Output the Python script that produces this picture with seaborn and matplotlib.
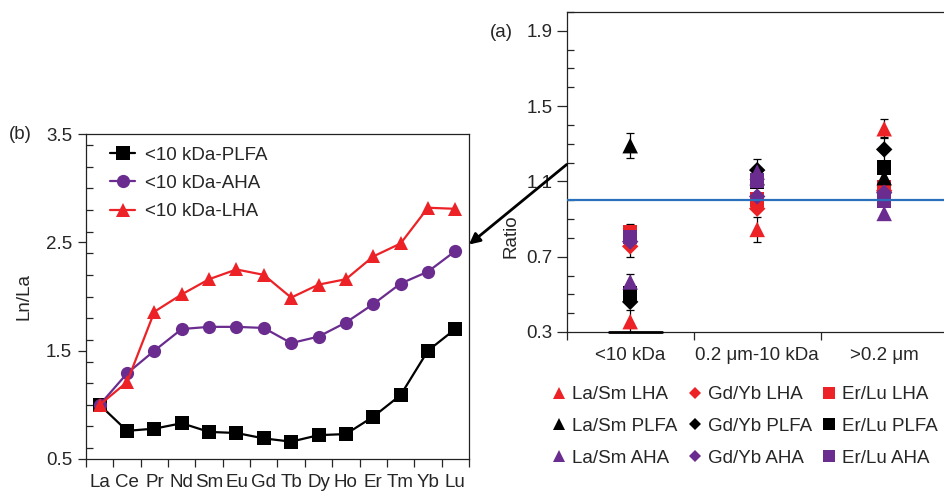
import matplotlib
matplotlib.use("Agg")
import matplotlib.pyplot as plt
import numpy as np
import pandas as pd
import seaborn as sns
from matplotlib.lines import Line2D
from matplotlib.patches import ConnectionPatch
from matplotlib.ticker import MultipleLocator, FixedLocator

# ---- panel (b): Ln/La patterns
elements = ['La', 'Ce', 'Pr', 'Nd', 'Sm', 'Eu', 'Gd', 'Tb', 'Dy', 'Ho', 'Er', 'Tm', 'Yb', 'Lu']
plfa = [1.00, 0.76, 0.78, 0.83, 0.75, 0.74, 0.69, 0.66, 0.72, 0.73, 0.89, 1.09, 1.50, 1.70]
aha = [1.00, 1.29, 1.50, 1.70, 1.72, 1.72, 1.71, 1.57, 1.63, 1.76, 1.93, 2.12, 2.23, 2.42]
lha = [1.00, 1.21, 1.86, 2.02, 2.16, 2.25, 2.20, 1.99, 2.11, 2.16, 2.37, 2.49, 2.82, 2.81]
series_b = ['<10 kDa-PLFA', '<10 kDa-AHA', '<10 kDa-LHA']

# ---- panel (a): ratios per size fraction
sizes = ['<10 kDa', '0.2 \u03bcm-10 kDa', '>0.2 \u03bcm']
lasm_lha = [0.355, 0.845, 1.38]
lasm_plfa = [1.29, 1.12, 1.12]
lasm_aha = [0.566, 1.15, 0.93]
gdyb_lha = [0.755, 0.955, 1.05]
gdyb_plfa = [0.46, 1.16, 1.27]
gdyb_aha = [0.78, 1.02, 1.04]
erlu_lha = [0.83, 1.005, 1.07]
erlu_plfa = [0.505, 1.10, 1.175]
erlu_aha = [0.805, 1.105, 1.00]
# error bars (0 = none visible)
lasm_lha_err = [0.06, 0.065, 0.05]
lasm_plfa_err = [0.065, 0, 0]
lasm_aha_err = [0.04, 0, 0]
gdyb_lha_err = [0.055, 0, 0]
gdyb_plfa_err = [0, 0.06, 0.065]
erlu_lha_err = [0.045, 0, 0]

RED = '#EC2227'
PURPLE = '#6A2C8F'
BLACK = '#000000'
BLUE = '#2B70BD'
FS = 13.5

sns.set_style("ticks")
plt.rcParams['font.family'] = ['Liberation Sans', 'DejaVu Sans']
plt.rcParams['font.size'] = FS
plt.rcParams['axes.edgecolor'] = '#222222'
plt.rcParams['axes.linewidth'] = 0.9

fig = plt.figure(figsize=(9.44, 4.93), dpi=100)

# ================= panel (b)
axb = fig.add_axes([0.0911, 0.069, 0.4057, 0.659])
dfb = pd.DataFrame({
    'element': elements * 3,
    'value': plfa + aha + lha,
    'series': [series_b[0]] * 14 + [series_b[1]] * 14 + [series_b[2]] * 14,
})
pal_b = {series_b[0]: BLACK, series_b[1]: PURPLE, series_b[2]: RED}
mk_b = {series_b[0]: 's', series_b[1]: 'o', series_b[2]: '^'}
sns.lineplot(data=dfb, x='element', y='value', hue='series', style='series',
             hue_order=series_b, style_order=series_b, palette=pal_b,
             markers=mk_b, dashes=False, markersize=9.5, markeredgewidth=0,
             linewidth=1.6, legend=False, ax=axb)
axb.set_xlim(-0.5, 13.5)
axb.set_ylim(0.5, 3.5)
axb.set_xlabel('')
axb.set_ylabel('Ln/La', fontsize=FS)
axb.yaxis.set_label_coords(-0.14, 0.5)
axb.yaxis.set_major_locator(FixedLocator([0.5, 1.5, 2.5, 3.5]))
axb.yaxis.set_minor_locator(MultipleLocator(0.2))
axb.xaxis.set_minor_locator(FixedLocator(np.arange(-0.5, 14, 1.0)))
axb.tick_params(axis='y', which='major', direction='out', length=6, width=0.9, pad=4, labelsize=FS)
axb.tick_params(axis='y', which='minor', direction='in', length=5, width=0.9)
axb.tick_params(axis='x', which='major', length=0, pad=11, labelsize=FS)
axb.tick_params(axis='x', which='minor', direction='out', length=6, width=0.9)

handles_b = [Line2D([], [], color=pal_b[s], marker=mk_b[s], markersize=9.5,
                    markeredgewidth=0, linewidth=1.6) for s in series_b]
axb.legend(handles_b, series_b, loc='upper left', bbox_to_anchor=(0.063, 0.962),
           frameon=False, fontsize=FS, handlelength=1.35, handletextpad=0.53,
           labelspacing=0.6, borderaxespad=0, borderpad=0)

# ================= panel (a)
axa = fig.add_axes([0.6003, 0.3266, 0.4036, 0.649])
rows = []
groups = [
    ('LHA', 'La/Sm', lasm_lha), ('LHA', 'Gd/Yb', gdyb_lha), ('LHA', 'Er/Lu', erlu_lha),
    ('PLFA', 'La/Sm', lasm_plfa), ('PLFA', 'Gd/Yb', gdyb_plfa), ('PLFA', 'Er/Lu', erlu_plfa),
    ('AHA', 'La/Sm', lasm_aha), ('AHA', 'Gd/Yb', gdyb_aha), ('AHA', 'Er/Lu', erlu_aha),
]
for frac, ratio, vals in groups:
    for s, v in zip(sizes, vals):
        rows.append({'size': s, 'ratio_val': v, 'fraction': frac, 'ratio': ratio})
dfa = pd.DataFrame(rows)
pal_a = {'LHA': RED, 'PLFA': BLACK, 'AHA': PURPLE}
mk_a = {'La/Sm': '^', 'Gd/Yb': 'D', 'Er/Lu': 's'}
sz_a = {'La/Sm': 125, 'Gd/Yb': 70, 'Er/Lu': 110}

# error bars behind markers
xpos = np.arange(len(sizes))
for vals, err in [(lasm_lha, lasm_lha_err), (lasm_plfa, lasm_plfa_err), (lasm_aha, lasm_aha_err),
                  (gdyb_lha, gdyb_lha_err), (gdyb_plfa, gdyb_plfa_err), (erlu_lha, erlu_lha_err)]:
    e = np.array(err)
    m = e > 0
    axa.errorbar(xpos[m], np.array(vals)[m], yerr=e[m], fmt='none', ecolor='black',
                 elinewidth=0.9, capsize=3, capthick=0.9, zorder=1)

sns.scatterplot(data=dfa, x='size', y='ratio_val', hue='fraction', style='ratio',
                size='ratio', sizes=sz_a, palette=pal_a, markers=mk_a,
                linewidth=0, legend=False, zorder=3, ax=axa)
axa.axhline(1.0, color=BLUE, linewidth=1.6, zorder=4)
# bottom segment under first category
axa.plot([-0.165, 0.25], [0.3, 0.3], color='black', linewidth=2, clip_on=False, zorder=5)

axa.set_xlim(-0.5, 2.5)
axa.set_ylim(0.3, 2.0)
axa.set_xlabel('')
axa.set_ylabel('Ratio', fontsize=FS)
axa.yaxis.set_label_coords(-0.125, 0.30)
axa.yaxis.set_major_locator(FixedLocator([0.3, 0.7, 1.1, 1.5, 1.9]))
axa.yaxis.set_minor_locator(MultipleLocator(0.1))
axa.xaxis.set_minor_locator(FixedLocator([-0.5, 0.5, 1.5, 2.5]))
axa.tick_params(axis='y', which='major', direction='out', length=7, width=0.9, pad=3, labelsize=FS)
axa.tick_params(axis='y', which='minor', direction='in', length=5, width=0.9)
axa.tick_params(axis='x', which='major', length=0, pad=11, labelsize=FS)
axa.tick_params(axis='x', which='minor', direction='out', length=6, width=0.9)

labels_a = []
handles_a = []
for ratio in ['La/Sm', 'Gd/Yb', 'Er/Lu']:
    for frac in ['LHA', 'PLFA', 'AHA']:
        ms = 8.5 if ratio != 'Gd/Yb' else 6.5
        handles_a.append(Line2D([], [], linestyle='none', marker=mk_a[ratio], color=pal_a[frac],
                                markersize=ms, markeredgewidth=0))
        labels_a.append(f'{ratio} {frac}')
fig.legend(handles_a, labels_a, ncol=3, loc='upper left', bbox_to_anchor=(0.5862, 0.217),
           frameon=False, fontsize=FS, handlelength=0.6, handletextpad=0.4,
           columnspacing=0.62, labelspacing=0.78, borderaxespad=0, borderpad=0)

# arrow from (a) to (b)
arrow = ConnectionPatch(xyA=(-0.5, 1.19), coordsA=axa.transData,
                        xyB=(13.5, 2.48), coordsB=axb.transData,
                        arrowstyle='-|>', mutation_scale=16, linewidth=2.0,
                        color='black', zorder=10)
fig.add_artist(arrow)

fig.text(0.519, 0.935, '(a)', fontsize=FS, ha='left', va='center')
fig.text(0.009, 0.727, '(b)', fontsize=FS, ha='left', va='center')

fig.savefig('out.png', dpi=100)
